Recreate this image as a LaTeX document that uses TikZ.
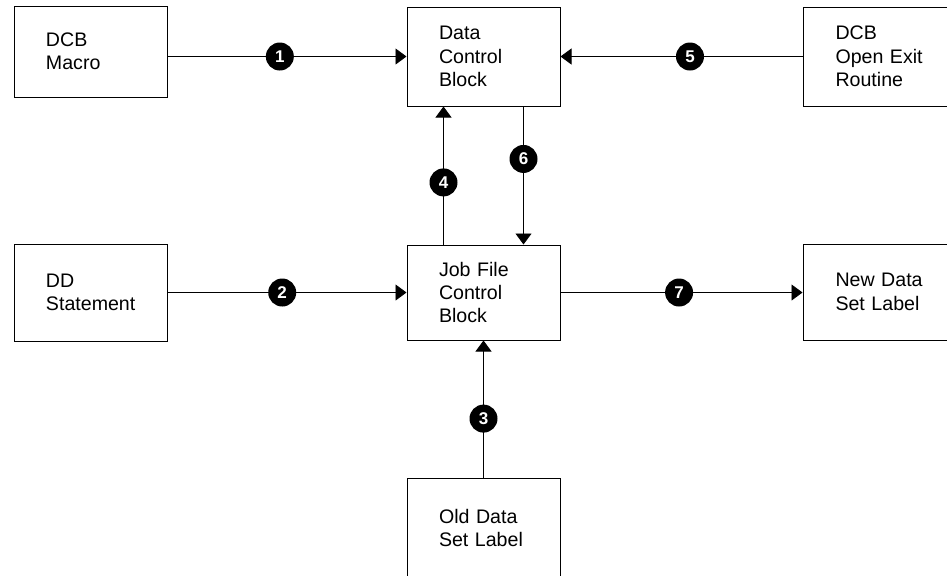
\documentclass[tikz,border=0pt]{standalone}
\usepackage{fontspec}
\setmainfont{Liberation Sans}
\usetikzlibrary{arrows.meta}

\tikzset{
  blk/.style={draw, line width=.5pt, inner sep=0pt, text width=44.5pt, align=left,
    font=\fontsize{9.8pt}{11.7pt}\selectfont},
  num/.style={circle, fill=black, text=white, inner sep=0pt, minimum size=14pt,
    font=\fontsize{8.5pt}{9pt}\selectfont\bfseries},
  flow/.style={line width=.45pt, -{Triangle[length=5.5pt,width=8pt]}}
}

\begin{document}
\begin{tikzpicture}[x=.5pt, y=-.5pt]
  \useasboundingbox (0,0) rectangle (947,575);

  % top row
  \node[blk, minimum width=76.5pt, minimum height=45.5pt] (mac) at (90.5, 51.5) {DCB\\Macro};
  \node[blk, minimum width=76.5pt, minimum height=49.5pt] (dcb) at (483.5, 56.5) {Data\\Control\\Block};
  \node[blk, minimum width=77pt, minimum height=49.5pt] (exit) at (880, 56.5) {DCB\\Open Exit\\Routine};

  % middle row
  \node[blk, minimum width=76.5pt, minimum height=48.5pt] (dd) at (90.5, 292.5) {DD\\Statement};
  \node[blk, minimum width=76.5pt, minimum height=47.5pt] (jfcb) at (483.5, 292.5) {Job File\\Control\\Block};
  \node[blk, minimum width=77pt, minimum height=48pt] (newl) at (880, 292) {New Data\\Set Label};

  % bottom
  \node[blk, minimum width=76.5pt, minimum height=50pt] (oldl) at (483.5, 528) {Old Data\\Set Label};

  % connectors
  \draw[flow] (mac.east |- dcb) -- node[num, pos=.47] (n1) {1} (dcb.west);
  \draw[flow] (dd.east |- jfcb) -- node[num, pos=.48] (n2) {2} (jfcb.west);
  \draw[flow] (oldl.north) -- node[num, pos=.43] (n3) {3} (jfcb.south);
  \draw[flow] ([xshift=-20pt]jfcb.north) -- node[num, pos=.45] (n4) {4} ([xshift=-20pt]dcb.south);
  \draw[flow] (exit.west) -- node[num, pos=.465] (n5) {5} (dcb.east);
  \draw[flow] ([xshift=20pt]dcb.south) -- node[num, pos=.38] (n6) {6} ([xshift=20pt]jfcb.north);
  \draw[flow] (jfcb.east) -- node[num, pos=.49] (n7) {7} (newl.west |- jfcb);
\end{tikzpicture}
\end{document}
